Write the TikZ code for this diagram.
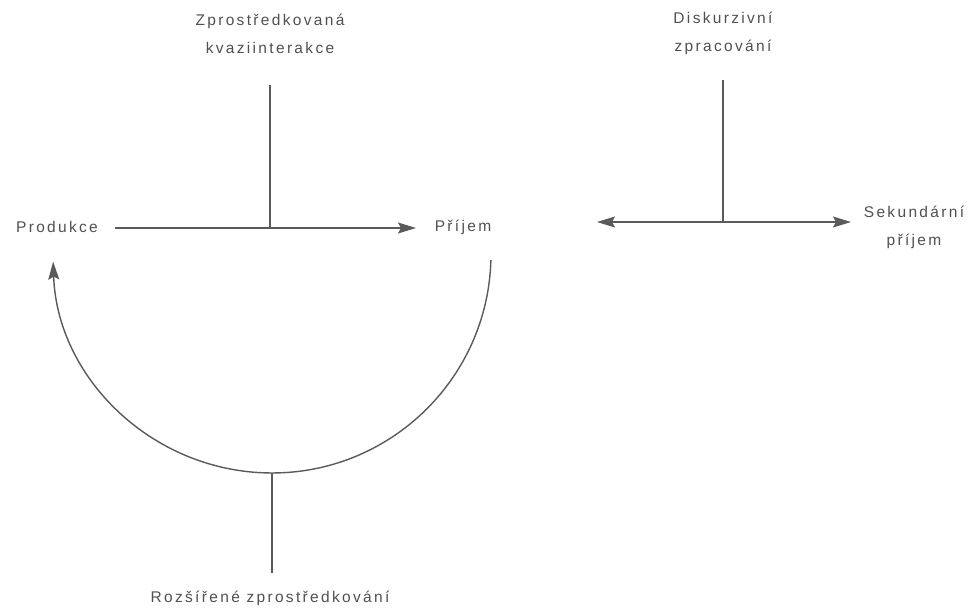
\documentclass[tikz,border=0pt]{standalone}
\usepackage{fontspec}
\setmainfont[LetterSpace=15]{Liberation Sans}
\usetikzlibrary{arrows.meta}
\definecolor{ink}{HTML}{5A5A5A}
\definecolor{txt}{HTML}{505050}
\tikzset{
  lbl/.style={text=txt, font=\fontsize{15.5}{28}\selectfont, align=center, inner sep=2pt},
  ln/.style={draw=ink, line width=1.4pt},
  tip/.style={-{Stealth[length=18pt,width=11pt,inset=3pt]}},
  tips/.style={{Stealth[length=18pt,width=11pt,inset=3pt]}-{Stealth[length=18pt,width=11pt,inset=3pt]}}
}
\begin{document}
\begin{tikzpicture}[x=1pt,y=1pt]
\useasboundingbox (0,0) rectangle (975,-610);
% labels
\node[lbl] (prod) at (57,-227) {Produkce};
\node[lbl] (prij) at (463,-227) {Příjem};
\node[lbl] (zk) at (270,-34) {Zprostředkovaná\\kvaziinterakce};
\node[lbl] (dz) at (723,-33) {Diskurzivní\\zpracování};
\node[lbl] (sp) at (914,-227) {Sekundární\\příjem};
\node[lbl] (rz) at (270,-598) {Rozšířené zprostředkování};
% left main arrow
\coordinate (a1) at (115,-228);
\coordinate (a2) at (416,-228);
\coordinate (j1) at (270,-228);
\coordinate (t1) at (270,-85);
\draw[ln,tip] (a1) -- (a2);
\draw[ln] (t1) -- (j1);
% right double arrow
\coordinate (b1) at (597,-222);
\coordinate (b2) at (851,-222);
\coordinate (j2) at (723,-222);
\coordinate (t2) at (723,-80);
\draw[ln,tips] (b1) -- (b2);
\draw[ln] (t2) -- (j2);
% arc
\coordinate (c0) at (490.9,-260.1);
\draw[ln,tip] (c0) arc[start angle=-1.6, end angle=-178, radius=219];
\coordinate (cb) at (272,-473);
\coordinate (cl) at (272,-573);
\draw[ln] (cb) -- (cl);
\end{tikzpicture}
\end{document}
